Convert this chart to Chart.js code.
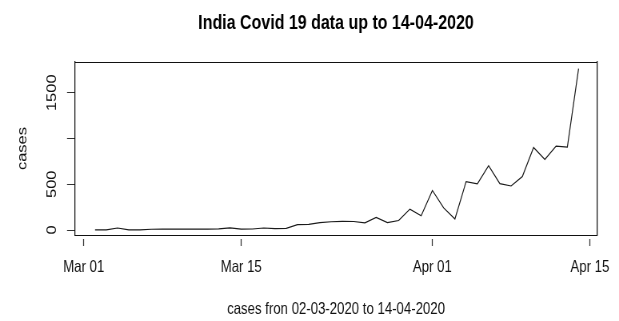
<!DOCTYPE html>
<html>
<head>
<meta charset="utf-8">
<title>India Covid 19 data up to 14-04-2020</title>
<script src="https://cdn.jsdelivr.net/npm/chart.js@4.4.1/dist/chart.umd.min.js"></script>
<style>
  html, body { margin: 0; padding: 0; background: #ffffff; overflow: hidden; }
  /* the plot is drawn on a wider bitmap and shown condensed to 619px */
  canvas { display: block; width: 619px; height: 321px; }
</style>
</head>
<body>
<canvas id="chart" width="774" height="321" style="width:619px;height:321px"></canvas>
<script>
// Daily new cases reported in India, 2 March – 14 April 2020
const dates = [
  '2020-03-02', '2020-03-03', '2020-03-04', '2020-03-05', '2020-03-06', '2020-03-07',
  '2020-03-08', '2020-03-09', '2020-03-10', '2020-03-11', '2020-03-12', '2020-03-13',
  '2020-03-14', '2020-03-15', '2020-03-16', '2020-03-17', '2020-03-18', '2020-03-19',
  '2020-03-20', '2020-03-21', '2020-03-22', '2020-03-23', '2020-03-24', '2020-03-25',
  '2020-03-26', '2020-03-27', '2020-03-28', '2020-03-29', '2020-03-30', '2020-03-31',
  '2020-04-01', '2020-04-02', '2020-04-03', '2020-04-04', '2020-04-05', '2020-04-06',
  '2020-04-07', '2020-04-08', '2020-04-09', '2020-04-10', '2020-04-11', '2020-04-12',
  '2020-04-13', '2020-04-14'
];
const cases = [
  2, 1, 22, 2, 1, 8,
  9, 9, 10, 10, 10, 12,
  24, 10, 11, 22, 14, 18,
  58, 62, 80, 90, 94, 93,
  78, 137, 80, 104, 228, 155,
  432, 242, 120, 529, 505, 702,
  506, 481, 584, 901, 771, 917,
  906, 1762
];

// Axis ticks (the 1000 tick carries no label)
const xTickDates = ['2020-03-01', '2020-03-15', '2020-04-01', '2020-04-15'];
const xTickLabels = ['Mar 01', 'Mar 15', 'Apr 01', 'Apr 15'];
const yTickValues = [0, 500, 1000, 1500];
const yTickLabels = ['0', '500', '', '1500'];

const chartTitle = 'India Covid 19 data up to 14-04-2020';
const xTitle = 'cases fron 02-03-2020 to 14-04-2020';
const yTitle = 'cases';

// Dates are placed on a linear axis as days since 1 March 2020
const DAY = 86400000;
const origin = Date.UTC(2020, 2, 1);
function dayOf(iso) {
  const [y, m, d] = iso.split('-').map(Number);
  return (Date.UTC(y, m - 1, d) - origin) / DAY;
}
const points = dates.map((d, i) => ({ x: dayOf(d), y: cases[i] }));
const xTickDays = xTickDates.map(dayOf);

const family = '"Liberation Sans", Arial, sans-serif';
const ink = '#111111';

new Chart(document.getElementById('chart'), {
  type: 'line',
  data: {
    datasets: [{
      data: points,
      xAxisID: 'x',
      yAxisID: 'y',
      borderColor: '#1a1a1a',
      borderWidth: 1.2,
      pointRadius: 0,
      tension: 0,
      fill: false
    }]
  },
  options: {
    responsive: false,
    animation: false,
    devicePixelRatio: 1,
    layout: { padding: 0 },
    plugins: {
      legend: { display: false },
      tooltip: { enabled: false },
      title: { display: false }
    },
    scales: {
      x: {
        type: 'linear',
        position: 'bottom',
        min: -0.78,
        max: 45.64,
        afterBuildTicks: (scale) => { scale.ticks = xTickDays.map(v => ({ value: v })); },
        afterFit: (scale) => { scale.height = 86; scale.paddingLeft = 0; scale.paddingRight = 0; },
        ticks: {
          autoSkip: false,
          maxRotation: 0,
          padding: 12,
          color: ink,
          font: { family: family, size: 16.5 },
          callback: (v) => xTickLabels[xTickDays.indexOf(v)]
        },
        grid: {
          display: true,
          drawOnChartArea: false,
          drawTicks: true,
          tickLength: 11,
          tickColor: '#333333',
          tickWidth: 1.25,
          tickBorderDash: [8, 100],
          tickBorderDashOffset: 105
        },
        border: { display: true, color: ink, width: 1 },
        title: {
          display: true,
          text: xTitle,
          color: ink,
          font: { family: family, size: 16.5 },
          padding: { top: 0, bottom: 2 }
        }
      },
      y: {
        type: 'linear',
        position: 'left',
        min: -54.6,
        max: 1835.5,
        afterBuildTicks: (scale) => { scale.ticks = yTickValues.map(v => ({ value: v })); },
        afterFit: (scale) => { scale.width = 93.8; scale.paddingTop = 0; scale.paddingBottom = 0; },
        ticks: {
          autoSkip: false,
          minRotation: 90,
          maxRotation: 90,
          crossAlign: 'center',
          padding: 0,
          color: ink,
          font: { family: family, size: 16.5 },
          callback: (v) => yTickLabels[yTickValues.indexOf(v)]
        },
        grid: {
          display: true,
          drawOnChartArea: false,
          drawTicks: true,
          tickLength: 10,
          tickColor: '#333333',
          tickWidth: 1
        },
        border: { display: true, color: ink, width: 1.25 },
        title: {
          display: true,
          text: yTitle,
          color: ink,
          font: { family: family, size: 16.5 },
          padding: { top: 18.5, bottom: 0 }
        }
      },
      // top edge of the frame, carrying the main heading centred over the plot
      xTop: {
        axis: 'x',
        type: 'linear',
        position: 'top',
        afterFit: (scale) => { scale.height = 62; scale.paddingLeft = 0; scale.paddingRight = 0; },
        ticks: { display: false },
        grid: { display: false },
        border: { display: true, color: ink, width: 1 },
        title: {
          display: true,
          text: chartTitle,
          color: '#000000',
          font: { family: family, size: 20, weight: 'bold' },
          padding: { top: 11.5, bottom: 0 }
        }
      },
      // right edge of the frame
      yRight: {
        axis: 'y',
        type: 'linear',
        position: 'right',
        afterFit: (scale) => { scale.width = 27.5; scale.paddingTop = 0; scale.paddingBottom = 0; },
        ticks: { display: false },
        grid: { display: false },
        border: { display: true, color: ink, width: 1.25 }
      }
    }
  }
});
</script>
</body>
</html>
